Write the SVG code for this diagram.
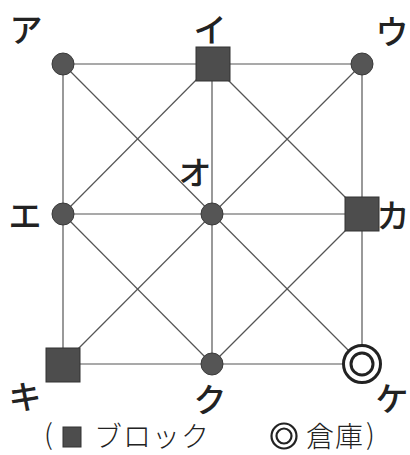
<svg xmlns="http://www.w3.org/2000/svg" width="410" height="455" viewBox="0 0 410 455">
<style>
.e{stroke:#555;stroke-width:1.2;fill:none}
.c{fill:#555;stroke:#3a3a3a;stroke-width:1}
.s{fill:#4d4d4d;stroke:#333;stroke-width:1}
.w{fill:#fff;stroke:#222;stroke-width:3}
.l{font-family:"Noto Sans CJK JP","Noto Sans",sans-serif;font-size:33px;font-weight:500;fill:#222;text-anchor:middle;dominant-baseline:central}
.g{font-family:"Noto Sans CJK JP","Noto Sans",sans-serif;font-size:28px;font-weight:300;fill:#222;dominant-baseline:central}
.p{font-family:"Noto Sans CJK JP","Noto Sans",sans-serif;font-size:28px;font-weight:300;fill:#222;dominant-baseline:central}
</style>
<rect width="410" height="455" fill="#fff"/>
<g id="connectors">
<line class="e" x1="63" y1="64" x2="362" y2="64"/>
<line class="e" x1="63" y1="214" x2="362" y2="214"/>
<line class="e" x1="63" y1="364" x2="362" y2="364"/>
<line class="e" x1="63" y1="64" x2="63" y2="364"/>
<line class="e" x1="212" y1="64" x2="212" y2="364"/>
<line class="e" x1="362" y1="64" x2="362" y2="364"/>
<line class="e" x1="63" y1="64" x2="362" y2="364"/>
<line class="e" x1="362" y1="64" x2="63" y2="364"/>
<line class="e" x1="212" y1="64" x2="63" y2="214"/>
<line class="e" x1="212" y1="64" x2="362" y2="214"/>
<line class="e" x1="63" y1="214" x2="212" y2="364"/>
<line class="e" x1="362" y1="214" x2="212" y2="364"/>
</g>
<g id="node-a"><circle class="c" cx="63" cy="64" r="11"/><text class="l" x="26" y="28">ア</text></g>
<g id="node-i"><rect class="s" x="196" y="47" width="34" height="34"/><text class="l" x="210" y="28">イ</text></g>
<g id="node-u"><circle class="c" cx="362" cy="64" r="11"/><text class="l" x="392" y="30">ウ</text></g>
<g id="node-e"><circle class="c" cx="63" cy="214" r="11"/><text class="l" x="25" y="214">エ</text></g>
<g id="node-o"><circle class="c" cx="212" cy="214" r="11"/><text class="l" x="195" y="171">オ</text></g>
<g id="node-ka"><rect class="s" x="345" y="197" width="34" height="34"/><text class="l" x="393" y="214">カ</text></g>
<g id="node-ki"><rect class="s" x="46" y="348" width="34" height="34"/><text class="l" x="25" y="395">キ</text></g>
<g id="node-ku"><circle class="c" cx="212" cy="364" r="11"/><text class="l" x="210" y="398">ク</text></g>
<g id="node-ke"><circle class="w" cx="362" cy="364" r="18.5"/><circle class="w" cx="362" cy="364" r="11"/><text class="l" x="392" y="397">ケ</text></g>
<g id="legend">
<text class="p" x="44" y="433">(</text>
<rect class="s" x="63" y="427" width="18" height="20"/>
<text class="g" x="94" y="435" letter-spacing="1">ブロック</text>
<circle cx="284" cy="436" r="12.5" fill="none" stroke="#222" stroke-width="2.2"/>
<circle cx="284" cy="436" r="7.5" fill="none" stroke="#222" stroke-width="2.2"/>
<text class="g" x="306" y="435" letter-spacing="1">倉庫</text>
<text class="p" x="366" y="433">)</text>
</g>
</svg>
